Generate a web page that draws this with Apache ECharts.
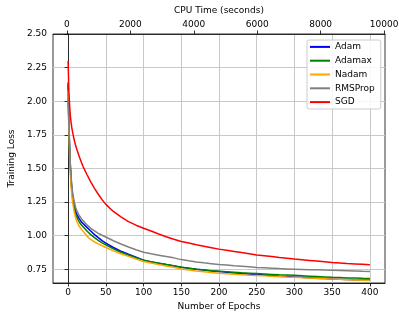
<!DOCTYPE html>
<html>
<head>
<meta charset="utf-8">
<script src="https://cdn.jsdelivr.net/npm/echarts@6/dist/echarts.min.js"></script>
<style>
  html, body { margin: 0; padding: 0; background: #fff; }
  #chart { width: 399px; height: 315px; }
</style>
</head>
<body>
<div id="chart"></div>
<script>
var epochs = [0, 1, 2, 3, 4, 5, 6, 8, 10, 12, 15, 18, 20, 25, 30, 35, 40, 45, 50,
  60, 70, 80, 90, 100, 110, 120, 130, 140, 150, 160, 170, 180, 190, 200,
  210, 220, 230, 240, 250, 260, 270, 280, 290, 300, 310, 320, 330, 340, 350,
  360, 370, 380, 390, 400];

var adam = [2.14, 1.85, 1.66, 1.52, 1.42, 1.35, 1.30, 1.23, 1.18, 1.155, 1.125, 1.10, 1.088, 1.062, 1.035, 1.008, 0.985, 0.963, 0.945,
  0.912, 0.885, 0.862, 0.84, 0.818, 0.805, 0.795, 0.785, 0.775, 0.765, 0.757, 0.75, 0.744, 0.738, 0.733,
  0.728, 0.723, 0.719, 0.715, 0.711, 0.707, 0.703, 0.699, 0.696, 0.693, 0.69, 0.687, 0.684, 0.681, 0.678,
  0.676, 0.674, 0.672, 0.671, 0.670];

var adamax = [2.12, 1.83, 1.64, 1.50, 1.40, 1.33, 1.28, 1.21, 1.16, 1.132, 1.10, 1.078, 1.066, 1.035, 1.008, 0.985, 0.965, 0.947, 0.932,
  0.902, 0.877, 0.856, 0.836, 0.818, 0.806, 0.795, 0.785, 0.776, 0.765, 0.758, 0.751, 0.745, 0.740, 0.736,
  0.732, 0.728, 0.724, 0.721, 0.718, 0.715, 0.712, 0.709, 0.707, 0.705, 0.702, 0.699, 0.696, 0.693, 0.690,
  0.688, 0.686, 0.685, 0.683, 0.682];

var nadam = [2.08, 1.80, 1.60, 1.46, 1.37, 1.30, 1.25, 1.18, 1.135, 1.10, 1.068, 1.045, 1.032, 0.997, 0.972, 0.953, 0.939, 0.925, 0.912,
  0.887, 0.866, 0.846, 0.826, 0.808, 0.796, 0.785, 0.775, 0.765, 0.752, 0.745, 0.738, 0.732, 0.726, 0.721,
  0.717, 0.713, 0.709, 0.706, 0.704, 0.701, 0.698, 0.695, 0.692, 0.690, 0.687, 0.685, 0.682, 0.680, 0.677,
  0.675, 0.673, 0.671, 0.669, 0.667];

var rmsprop = [2.02, 1.82, 1.66, 1.53, 1.44, 1.37, 1.32, 1.255, 1.21, 1.18, 1.148, 1.125, 1.11, 1.08, 1.055, 1.035, 1.017, 1.003, 0.99,
  0.962, 0.938, 0.916, 0.895, 0.877, 0.865, 0.855, 0.845, 0.835, 0.822, 0.813, 0.805, 0.798, 0.792, 0.786,
  0.781, 0.776, 0.772, 0.768, 0.764, 0.761, 0.758, 0.755, 0.753, 0.751, 0.749, 0.747, 0.746, 0.744, 0.743,
  0.741, 0.739, 0.737, 0.735, 0.734];

var sgd = [2.30, 2.08, 1.97, 1.89, 1.84, 1.80, 1.77, 1.715, 1.67, 1.635, 1.585, 1.54, 1.512, 1.455, 1.40, 1.352, 1.308, 1.268, 1.233,
  1.18, 1.14, 1.105, 1.078, 1.055, 1.035, 1.012, 0.992, 0.974, 0.957, 0.945, 0.933, 0.922, 0.911, 0.90,
  0.892, 0.883, 0.874, 0.866, 0.857, 0.851, 0.845, 0.838, 0.832, 0.826, 0.821, 0.816, 0.811, 0.806, 0.80,
  0.797, 0.793, 0.79, 0.787, 0.784];

var epochTicks = [0, 50, 100, 150, 200, 250, 300, 350, 400];
var cpuTicks = [0, 2000, 4000, 6000, 8000, 10000];
var lossTicks = [0.75, 1.0, 1.25, 1.5, 1.75, 2.0, 2.25, 2.5];

var names = ['Adam', 'Adamax', 'Nadam', 'RMSProp', 'SGD'];
var colors = ['#0000ff', '#008000', '#ffa500', '#808080', '#ff0000'];
var values = [adam, adamax, nadam, rmsprop, sgd];

var font = 'DejaVu Sans';
var myChart = echarts.init(document.getElementById('chart'));

function pairs(vals) {
    return epochs.map(function (e, i) { return [e, vals[i]]; });
}

var option = {
    animation: false,
    textStyle: { fontFamily: font },
    grid: {
        left: 53, right: 14, top: 34, bottom: 32,
        outerBoundsMode: 'none',
        containLabel: false,
        show: true, borderColor: '#000', borderWidth: 0.8
    },
    legend: {
        data: names,
        orient: 'vertical',
        left: 307, top: 40,
        icon: 'rect',
        itemWidth: 20, itemHeight: 2,
        itemGap: 2,
        padding: [1, 6, 1, 3],
        backgroundColor: 'rgba(255,255,255,0.85)',
        borderColor: '#cccccc', borderWidth: 1, borderRadius: 2,
        textStyle: { fontFamily: font, fontSize: 9, color: '#000', lineHeight: 11.8 }
    },
    xAxis: [{
        type: 'value',
        min: -20, max: 420,
        name: 'Number of Epochs',
        nameLocation: 'middle', nameGap: 18,
        nameTextStyle: { fontFamily: font, fontSize: 9, color: '#000' },
        axisLine: { show: true, lineStyle: { color: '#000', width: 0.8 } },
        axisTick: { show: true, length: 3.5, customValues: epochTicks, lineStyle: { color: '#000', width: 0.8 } },
        axisLabel: { customValues: epochTicks, fontFamily: font, fontSize: 9, color: '#000', margin: 5 },
        splitLine: { show: true, lineStyle: { color: '#c8c8c8', width: 1 } }
    }, {
        type: 'value',
        position: 'top',
        min: -440, max: 10030,
        name: 'CPU Time (seconds)',
        nameLocation: 'middle', nameGap: 14,
        nameTextStyle: { fontFamily: font, fontSize: 9, color: '#000' },
        axisLine: { show: true, lineStyle: { color: '#000', width: 0.8 } },
        axisTick: { show: true, length: 3.5, customValues: cpuTicks, lineStyle: { color: '#000', width: 0.8 } },
        axisLabel: {
            customValues: cpuTicks, fontFamily: font, fontSize: 9, color: '#000', margin: 5,
            formatter: function (v) { return String(v); }
        },
        splitLine: { show: false }
    }],
    yAxis: [{
        type: 'value',
        min: 0.648, max: 2.5,
        name: 'Training Loss',
        nameLocation: 'middle', nameGap: 30,
        nameTextStyle: { fontFamily: font, fontSize: 9, color: '#000' },
        axisLine: { show: true, lineStyle: { color: '#000', width: 0.8 } },
        axisTick: { show: true, length: 3.5, customValues: lossTicks, lineStyle: { color: '#000', width: 0.8 } },
        axisLabel: {
            customValues: lossTicks, fontFamily: font, fontSize: 9, color: '#000', margin: 6,
            formatter: function (v) { return v.toFixed(2); }
        },
        splitLine: { show: true, lineStyle: { color: '#c8c8c8', width: 1 } }
    }],
    series: names.map(function (n, i) {
        return {
            name: n,
            type: 'line',
            xAxisIndex: 0,
            data: pairs(values[i]),
            showSymbol: false,
            clip: true,
            color: colors[i],
            lineStyle: { color: colors[i], width: 1.5 }
        };
    })
};

myChart.setOption(option);
</script>
</body>
</html>
